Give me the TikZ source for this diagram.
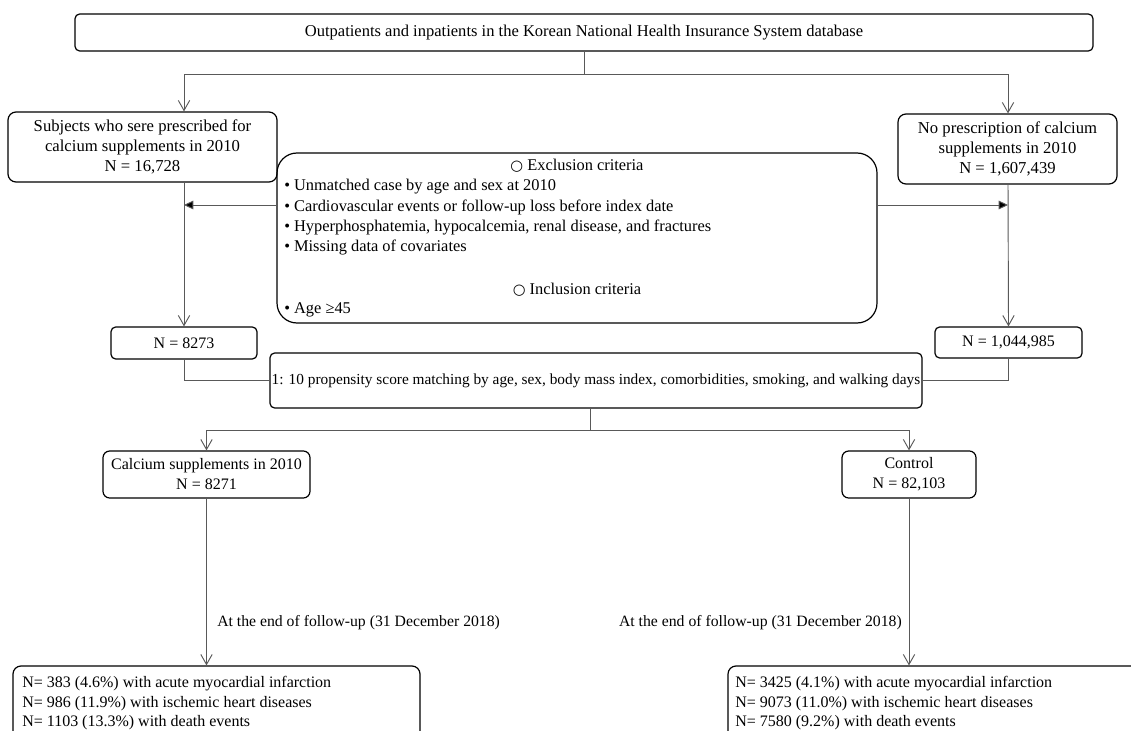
\documentclass[tikz,border=0pt]{standalone}
\usepackage{fontspec}
\setmainfont{Liberation Serif}
\newfontfamily\symfont{DejaVu Sans}
\usetikzlibrary{arrows.meta}
\newcommand{\circsym}{{\symfont\fontsize{11}{11}\selectfont ○}}
\begin{document}
\begin{tikzpicture}[x=0.75pt,y=-0.75pt,
  box/.style={draw=black,line width=0.9pt,rounded corners=3.5pt,inner sep=0pt,align=center,font=\fontsize{12}{15}\selectfont},
  txt/.style={inner sep=0pt,font=\fontsize{12.3}{15}\selectfont},
  conn/.style={draw=black!65,line width=0.7pt},
  arr/.style={conn,-{Straight Barb[length=7.5pt,width=8.5pt]}},
  farr/.style={conn,-{Triangle[length=7pt,width=6.5pt,fill=black]}}]
\useasboundingbox (0,0) rectangle (1131,731);
\clip (0,0) rectangle (1131,731);
\fill[white] (0,0) rectangle (1131,731);
% boxes
\node[box,minimum width=763.5pt,minimum height=27.75pt,font=\fontsize{12.4}{15}\selectfont] (top) at (584,32.5)
  {Outpatients and inpatients in the Korean National Health Insurance System database};
\node[box,minimum width=201.75pt,minimum height=52.5pt,rounded corners=6pt,font=\fontsize{12.5}{15}\selectfont] (left) at (142.5,147)
  {Subjects who sere prescribed for\\calcium supplements in 2010\\N = 16,728};
\node[box,minimum width=164.25pt,minimum height=52.5pt,rounded corners=6pt,font=\fontsize{12.5}{15}\selectfont] (right) at (1007.5,149)
  {No prescription of calcium\\supplements in 2010\\N = 1,607,439};
\node[box,minimum width=450pt,minimum height=127.5pt,rounded corners=15pt] (excl) at (577,238) {};
\node[txt] (eh) at (577,166) {\circsym\ Exclusion criteria};
\node[txt,anchor=west] (e1) at (284,187) {• Unmatched case by age and sex at 2010};
\node[txt,anchor=west] (e2) at (284,207) {• Cardiovascular events or follow-up loss before index date};
\node[txt,anchor=west] (e3) at (284,227) {• Hyperphosphatemia, hypocalcemia, renal disease, and fractures};
\node[txt,anchor=west] (e4) at (284,247) {• Missing data of covariates};
\node[txt] (ih) at (577,290) {\circsym\ Inclusion criteria};
\node[txt,anchor=west] (i1) at (284,310) {• Age ≥45};
\node[box,minimum width=109.5pt,minimum height=24pt] (n1) at (184,343) {N = 8273};
\node[box,minimum width=110.25pt,minimum height=23.25pt] (n2) at (1008.5,342.5) {N = 1,044,985};
\node[box,minimum width=489pt,minimum height=41.25pt,font=\fontsize{11.5}{13}\selectfont] (prop) at (596,380.5)
  {1: 10 propensity score matching by age, sex, body mass index, comorbidities, smoking, and walking days};
\node[box,minimum width=155.25pt,minimum height=35.25pt,rounded corners=5pt] (cal) at (206.5,474.5)
  {Calcium supplements in 2010\\N = 8271};
\node[box,minimum width=100.5pt,minimum height=35.25pt,rounded corners=5pt] (ctl) at (909,474.5)
  {Control\\N = 82,103};
\node[box,minimum width=305.25pt,minimum height=59.25pt,rounded corners=6pt] (bl) at (216.5,705.5) {};
\node[txt,anchor=north west,align=left,font=\fontsize{12}{14.6}\selectfont] (blt) at (22,676)
  {N= 383 (4.6\%) with acute myocardial infarction\\N= 986 (11.9\%) with ischemic heart diseases\\N= 1103 (13.3\%) with death events};
\node[box,minimum width=312.75pt,minimum height=59.25pt,rounded corners=6pt] (br) at (936.5,705.5) {};
\node[txt,anchor=north west,align=left,font=\fontsize{12}{14.6}\selectfont] (brt) at (735,676)
  {N= 3425 (4.1\%) with acute myocardial infarction\\N= 9073 (11.0\%) with ischemic heart diseases\\N= 7580 (9.2\%) with death events};
\node[txt,anchor=west,font=\fontsize{11.8}{14}\selectfont] (lab1) at (217,623) {At the end of follow-up (31 December 2018)};
\node[txt,anchor=east,font=\fontsize{11.8}{14}\selectfont] (lab2) at (902,623) {At the end of follow-up (31 December 2018)};
% coordinates
\coordinate (cl) at (184,0);
\coordinate (cr) at (1008,0);
\coordinate (s1) at (584,74);
\coordinate (ey) at (0,205);
\coordinate (s2) at (590,430);
% connectors
\draw[conn] (top.south) -- (s1);
\draw[arr] (s1) -| (left.north -| cl);
\draw[arr] (s1) -| (right.north -| cr);
\draw[arr] (left.south -| cl) -- (n1.north);
\draw[arr] (right.south -| cr) -- (n2.north);
\draw[farr] (excl.west |- ey) -- (cl |- ey);
\draw[farr] (excl.east |- ey) -- (cr |- ey);
\draw[conn] (n1.south) |- (prop.west);
\draw[conn] (n2.south) |- (prop.east);
\draw[conn] (prop.south -| s2) -- (s2);
\draw[arr] (s2) -| (cal.north);
\draw[arr] (s2) -| (ctl.north);
\draw[arr] (cal.south) -- (bl.north -| cal.south);
\draw[arr] (ctl.south) -- (br.north -| ctl.south);
\end{tikzpicture}
\end{document}
